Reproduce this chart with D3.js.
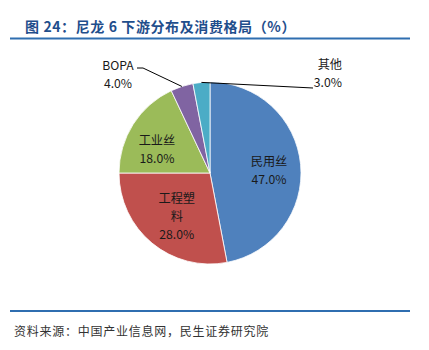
<!DOCTYPE html>
<html><head><meta charset="utf-8">
<script src="https://cdn.jsdelivr.net/npm/d3@7/dist/d3.min.js"></script>
<style>body{margin:0;background:#fff;}svg{display:block;}</style>
</head><body>
<svg id="c" width="429" height="350"></svg>
<script>
const categories = ["民用丝", "工程塑料", "工业丝", "BOPA", "其他"];
const values = [47.0, 28.0, 18.0, 4.0, 3.0];
const labelLines = [["民用丝"], ["工程塑", "料"], ["工业丝"], ["BOPA"], ["其他"]];
const colors = ["#4F81BD", "#C0504D", "#9BBB59", "#8064A2", "#4BACC6"];

const svg = d3.select("#c");
const font = "'Noto Sans CJK SC','Noto Sans',sans-serif";

svg.append("text").attr("x", 25).attr("y", 32)
  .attr("font-family", font).attr("font-weight", "bold").attr("font-size", 14)
  .attr("letter-spacing", 0.6)
  .attr("fill", "#1F4E8C").text("图 24：尼龙 6 下游分布及消费格局（%）");
svg.append("line").attr("x1", 10).attr("x2", 410).attr("y1", 38.5).attr("y2", 38.5)
  .attr("stroke", "#2F6EB0").attr("stroke-width", 2);
svg.append("line").attr("x1", 10).attr("x2", 410).attr("y1", 311).attr("y2", 311)
  .attr("stroke", "#2F6EB0").attr("stroke-width", 2);
svg.append("text").attr("x", 14).attr("y", 336)
  .attr("font-family", font).attr("font-size", 12).attr("fill", "#333")
  .attr("letter-spacing", 0.75)
  .text("资料来源：中国产业信息网，民生证券研究院");

const cx = 210, cy = 173, R = 91;
const g = svg.append("g").attr("transform", `translate(${cx},${cy})`);
const pie = d3.pie().sort(null).value(d => d)(values);
const arc = d3.arc().innerRadius(0).outerRadius(R);
g.selectAll("path").data(pie).join("path")
  .attr("d", arc).attr("fill", (d, i) => colors[i])
  .attr("stroke", "#fff").attr("stroke-width", 0.8);

const lblArc = d3.arc().innerRadius(60).outerRadius(60);
const fs = 12.2, lh = 18;
const offs = [[-0.7, 3.6], [5, -3.2], [-2.4, 8.2]];
pie.slice(0, 3).forEach((d, i) => {
  const [x, y] = lblArc.centroid(d);
  const lines = labelLines[i].concat([values[i].toFixed(1) + "%"]);
  const yc = y + offs[i][1] - (lines.length - 1) * lh / 2;
  lines.forEach((t, k) => {
    g.append("text").attr("x", x + offs[i][0]).attr("y", yc + k * lh + 4.5)
      .attr("text-anchor", "middle").attr("font-family", font)
      .attr("font-size", fs).attr("fill", "#1a1a1a").text(t);
  });
});

// outside labels with leader lines
const edge = d3.arc().innerRadius(R).outerRadius(R);
const outs = [
  {i: 3, lx: 118, ly: 69.5, anchor: "middle", path: p => [[137, 68], [143, 68], p]},
  {i: 4, lx: 342, ly: 68.5, anchor: "end", path: p => [p, [313, 88]]}
];
outs.forEach(o => {
  const d = pie[o.i];
  const [ex, ey] = edge.centroid(d);
  const p = [ex + cx, ey + cy];
  svg.append("path").attr("d", d3.line()(o.path(p)))
    .attr("fill", "none").attr("stroke", "#000").attr("stroke-width", 1);
  [labelLines[o.i][0], values[o.i].toFixed(1) + "%"].forEach((t, k) => {
    svg.append("text").attr("x", o.lx).attr("y", o.ly + k * 18.5)
      .attr("text-anchor", o.anchor).attr("font-family", font)
      .attr("font-size", fs).attr("fill", "#1a1a1a").text(t);
  });
});
</script>
</body></html>
